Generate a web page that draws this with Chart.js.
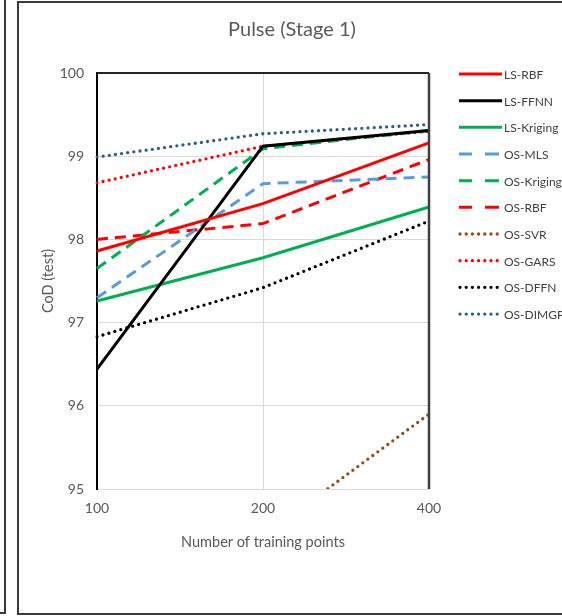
<!DOCTYPE html>
<html>
<head>
<meta charset="utf-8">
<script src="https://cdn.jsdelivr.net/npm/chart.js@4/dist/chart.umd.min.js"></script>
<style>
html,body{margin:0;padding:0;background:#fff;overflow:hidden;width:562px;height:616px;}
#prev{position:absolute;left:-20px;top:-10px;width:26px;height:624px;box-sizing:border-box;border:2px solid #3a3a3a;}
#frame{position:absolute;left:17px;top:1px;width:549px;height:614px;box-sizing:border-box;border:2px solid #3a3a3a;}
#wrap{position:absolute;left:0;top:0;width:545px;height:610px;}
</style>
</head>
<body>
<div id="prev"></div>
<div id="frame"><div id="wrap"><canvas id="c"></canvas></div></div>
<script>
const categories = ['100', '200', '400'];
const seriesNames = ['LS-RBF','LS-FFNN','LS-Kriging','OS-MLS','OS-Kriging','OS-RBF','OS-SVR','OS-GARS','OS-DFFN','OS-DIMGP'];
const lsRBF     = [97.86, 98.43, 99.16];
const lsFFNN    = [96.44, 99.12, 99.31];
const lsKriging = [97.26, 97.78, 98.39];
const osMLS     = [97.30, 98.67, 98.75];
const osKriging = [97.65, 99.09, 99.31];
const osRBF     = [98.00, 98.19, 98.96];
const osSVR     = [null, 94.43, 95.90];
const osGARS    = [98.68, 99.12, 99.30];
const osDFFN    = [96.83, 97.42, 98.22];
const osDIMGP   = [98.99, 99.27, 99.38];
const yTicks = [95, 96, 97, 98, 99, 100];
const chartTitle = 'Pulse (Stage 1)';
const xTitle = 'Number of training points';
const yTitle = 'CoD (test)';

const SOLID = [], DASH = [11, 7], DOT = [0, 6.2];
const styles = [
  ['#FF0000', SOLID], ['#000000', SOLID], ['#00B050', SOLID],
  ['#5B9BD5', DASH], ['#00B050', DASH], ['#FF0000', DASH],
  ['#9E480E', DOT], ['#FF0000', DOT], ['#000000', DOT], ['#255E91', DOT]
];
const values = [lsRBF, lsFFNN, lsKriging, osMLS, osKriging, osRBF, osSVR, osGARS, osDFFN, osDIMGP];

const datasets = seriesNames.map((n, i) => ({
  label: n,
  data: values[i],
  borderColor: styles[i][0],
  backgroundColor: styles[i][0],
  borderWidth: styles[i][1] === DOT ? 3.3 : 3,
  borderDash: styles[i][1],
  borderCapStyle: styles[i][1] === DOT ? 'round' : 'butt',
  pointRadius: 0,
  tension: 0,
  fill: false,
  spanGaps: false
}));

const textColor = '#595959';
const FONT = 'Lato, "Open Sans", sans-serif';

const decor = {
  id: 'decor',
  afterDatasetsDraw(chart) {
    const ctx = chart.ctx, a = chart.chartArea;
    ctx.save();
    ctx.strokeStyle = '#262626';
    ctx.lineWidth = 2;
    ctx.setLineDash([]);
    ctx.beginPath();
    ctx.moveTo(a.left, a.top);
    ctx.lineTo(a.right, a.top);
    ctx.stroke();
    ctx.strokeStyle = '#404040';
    ctx.lineWidth = 2.5;
    ctx.beginPath();
    ctx.moveTo(a.right, a.top);
    ctx.lineTo(a.right, a.bottom);
    ctx.stroke();
    ctx.restore();
  },
  afterDraw(chart) {
    const ctx = chart.ctx;
    ctx.save();
    ctx.fillStyle = textColor;
    ctx.font = '20px ' + FONT;
    ctx.textAlign = 'center';
    ctx.textBaseline = 'middle';
    ctx.fillText(chartTitle, 273, 27);
    ctx.font = '12px ' + FONT;
    ctx.textAlign = 'left';
    chart.data.datasets.forEach((ds, i) => {
      const y = 71 + i * 26.67;
      ctx.strokeStyle = ds.borderColor;
      ctx.lineWidth = ds.borderWidth;
      ctx.setLineDash(ds.borderDash);
      ctx.lineCap = ds.borderCapStyle;
      ctx.beginPath();
      if (ds.borderDash === DASH) {
        ctx.setLineDash([]);
        ctx.moveTo(440, y); ctx.lineTo(453, y);
        ctx.moveTo(466, y); ctx.lineTo(480, y);
      } else if (ds.borderDash === DOT) {
        ctx.moveTo(441, y); ctx.lineTo(481, y);
      } else {
        ctx.moveTo(440, y); ctx.lineTo(483, y);
      }
      ctx.stroke();
      ctx.setLineDash([]);
      ctx.fillStyle = '#404040';
      ctx.fillText(ds.label, 485, y + 1);
    });
    ctx.restore();
  }
};

new Chart(document.getElementById('c'), {
  type: 'line',
  data: { labels: categories, datasets },
  options: {
    responsive: true,
    maintainAspectRatio: false,
    animation: false,
    layout: { padding: { left: 9, right: 135, top: 70, bottom: 62 } },
    plugins: { legend: { display: false }, title: { display: false }, tooltip: { enabled: false } },
    scales: {
      x: {
        type: 'category',
        offset: false,
        grid: {
          color: (c) => c.index === 1 ? '#D9D9D9' : 'rgba(0,0,0,0)',
          lineWidth: 1,
          drawTicks: false
        },
        border: { color: '#D9D9D9', width: 1 },
        ticks: { color: textColor, font: { size: 14, family: FONT }, padding: 11, maxRotation: 0 },
        title: { display: true, text: xTitle, color: textColor, font: { size: 14.5, family: FONT }, padding: { top: 7, bottom: 0 } },
        afterFit(s) { s.height = 62; }
      },
      y: {
        min: 95, max: 100,
        afterBuildTicks(s) { s.ticks = yTicks.map(v => ({ value: v })); },
        grid: { color: '#D9D9D9', lineWidth: 1, drawTicks: false },
        border: { color: '#000000', width: 2 },
        ticks: { color: textColor, font: { size: 14, family: FONT }, padding: 13 },
        title: { display: true, text: yTitle, color: textColor, font: { size: 14.5, family: FONT }, padding: { top: 12, bottom: 0 } },
        afterFit(s) { s.width = 69; }
      }
    }
  },
  plugins: [decor]
});
</script>
</body>
</html>
